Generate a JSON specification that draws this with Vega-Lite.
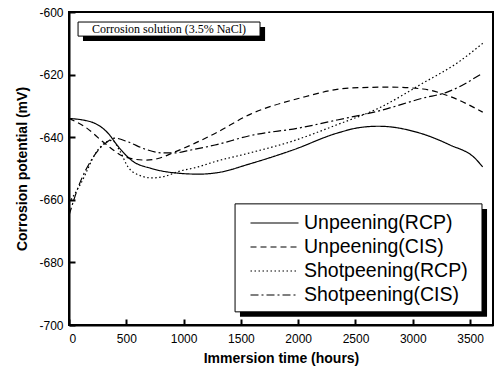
{
  "$schema": "https://vega.github.io/schema/vega-lite/v6.json",
  "width": 424,
  "height": 313,
  "autosize": {"type": "none"},
  "padding": {"left": 69, "top": 12, "right": 2, "bottom": 51},
  "background": "white",
  "config": {
    "view": {"stroke": "black", "strokeWidth": 2},
    "axis": {"grid": false, "domain": true, "domainColor": "black", "domainWidth": 2, "ticks": true, "labelOverlap": false, "labelFont": "Liberation Sans", "labelFontSize": 12, "labelColor": "black", "titleFont": "Liberation Sans", "titleFontSize": 14, "titleFontWeight": "bold", "titleColor": "black", "tickColor": "black", "tickWidth": 2}
  },
  "datasets": {
    "curves": [
      {"series": "Unpeening(RCP)", "hours": 0, "mV": -634},
      {"series": "Unpeening(RCP)", "hours": 200, "mV": -635.2},
      {"series": "Unpeening(RCP)", "hours": 340, "mV": -638.7},
      {"series": "Unpeening(RCP)", "hours": 430, "mV": -643},
      {"series": "Unpeening(RCP)", "hours": 550, "mV": -647.5},
      {"series": "Unpeening(RCP)", "hours": 720, "mV": -650},
      {"series": "Unpeening(RCP)", "hours": 925, "mV": -651.4},
      {"series": "Unpeening(RCP)", "hours": 1130, "mV": -651.8},
      {"series": "Unpeening(RCP)", "hours": 1300, "mV": -651.3},
      {"series": "Unpeening(RCP)", "hours": 1580, "mV": -648.5},
      {"series": "Unpeening(RCP)", "hours": 1960, "mV": -644},
      {"series": "Unpeening(RCP)", "hours": 2340, "mV": -638.7},
      {"series": "Unpeening(RCP)", "hours": 2540, "mV": -636.9},
      {"series": "Unpeening(RCP)", "hours": 2700, "mV": -636.5},
      {"series": "Unpeening(RCP)", "hours": 3063, "mV": -638.7},
      {"series": "Unpeening(RCP)", "hours": 3325, "mV": -642.5},
      {"series": "Unpeening(RCP)", "hours": 3545, "mV": -646.8},
      {"series": "Unpeening(RCP)", "hours": 3610, "mV": -649.5},
      {"series": "Unpeening(CIS)", "hours": 0, "mV": -634},
      {"series": "Unpeening(CIS)", "hours": 140, "mV": -636.7},
      {"series": "Unpeening(CIS)", "hours": 314, "mV": -642},
      {"series": "Unpeening(CIS)", "hours": 489, "mV": -646.3},
      {"series": "Unpeening(CIS)", "hours": 663, "mV": -647.3},
      {"series": "Unpeening(CIS)", "hours": 777, "mV": -646.8},
      {"series": "Unpeening(CIS)", "hours": 925, "mV": -644.7},
      {"series": "Unpeening(CIS)", "hours": 1100, "mV": -641.9},
      {"series": "Unpeening(CIS)", "hours": 1274, "mV": -638.8},
      {"series": "Unpeening(CIS)", "hours": 1580, "mV": -632.7},
      {"series": "Unpeening(CIS)", "hours": 2016, "mV": -627.5},
      {"series": "Unpeening(CIS)", "hours": 2453, "mV": -624.3},
      {"series": "Unpeening(CIS)", "hours": 2800, "mV": -624},
      {"series": "Unpeening(CIS)", "hours": 3090, "mV": -624.6},
      {"series": "Unpeening(CIS)", "hours": 3325, "mV": -627},
      {"series": "Unpeening(CIS)", "hours": 3610, "mV": -632},
      {"series": "Shotpeening(RCP)", "hours": 0, "mV": -661},
      {"series": "Shotpeening(RCP)", "hours": 100, "mV": -655},
      {"series": "Shotpeening(RCP)", "hours": 253, "mV": -644},
      {"series": "Shotpeening(RCP)", "hours": 375, "mV": -641},
      {"series": "Shotpeening(RCP)", "hours": 445, "mV": -644.5},
      {"series": "Shotpeening(RCP)", "hours": 515, "mV": -649.5},
      {"series": "Shotpeening(RCP)", "hours": 602, "mV": -652},
      {"series": "Shotpeening(RCP)", "hours": 724, "mV": -653},
      {"series": "Shotpeening(RCP)", "hours": 838, "mV": -652.5},
      {"series": "Shotpeening(RCP)", "hours": 951, "mV": -651},
      {"series": "Shotpeening(RCP)", "hours": 1126, "mV": -649.5},
      {"series": "Shotpeening(RCP)", "hours": 1274, "mV": -647.8},
      {"series": "Shotpeening(RCP)", "hours": 1580, "mV": -645},
      {"series": "Shotpeening(RCP)", "hours": 1955, "mV": -641.2},
      {"series": "Shotpeening(RCP)", "hours": 2340, "mV": -636},
      {"series": "Shotpeening(RCP)", "hours": 2715, "mV": -630.5},
      {"series": "Shotpeening(RCP)", "hours": 3090, "mV": -622.7},
      {"series": "Shotpeening(RCP)", "hours": 3387, "mV": -616.3},
      {"series": "Shotpeening(RCP)", "hours": 3610, "mV": -610},
      {"series": "Shotpeening(CIS)", "hours": 0, "mV": -665},
      {"series": "Shotpeening(CIS)", "hours": 80, "mV": -656},
      {"series": "Shotpeening(CIS)", "hours": 200, "mV": -647},
      {"series": "Shotpeening(CIS)", "hours": 332, "mV": -641.5},
      {"series": "Shotpeening(CIS)", "hours": 400, "mV": -640.3},
      {"series": "Shotpeening(CIS)", "hours": 515, "mV": -641.5},
      {"series": "Shotpeening(CIS)", "hours": 663, "mV": -643.8},
      {"series": "Shotpeening(CIS)", "hours": 811, "mV": -645},
      {"series": "Shotpeening(CIS)", "hours": 925, "mV": -645},
      {"series": "Shotpeening(CIS)", "hours": 1074, "mV": -644},
      {"series": "Shotpeening(CIS)", "hours": 1274, "mV": -642.5},
      {"series": "Shotpeening(CIS)", "hours": 1580, "mV": -639.5},
      {"series": "Shotpeening(CIS)", "hours": 2016, "mV": -637},
      {"series": "Shotpeening(CIS)", "hours": 2340, "mV": -634.5},
      {"series": "Shotpeening(CIS)", "hours": 2715, "mV": -631.5},
      {"series": "Shotpeening(CIS)", "hours": 3090, "mV": -627.5},
      {"series": "Shotpeening(CIS)", "hours": 3300, "mV": -625.6},
      {"series": "Shotpeening(CIS)", "hours": 3610, "mV": -619.5}
    ],
    "one": [{}]
  },
  "layer": [
    {
      "data": {"name": "curves"},
      "mark": {"type": "line", "interpolate": "monotone", "color": "black", "strokeWidth": 1.2},
      "encoding": {
        "x": {"field": "hours", "type": "quantitative", "scale": {"domain": [0, 3700], "nice": false},
          "axis": {"orient": "bottom", "values": [0, 250, 500, 750, 1000, 1250, 1500, 1750, 2000, 2250, 2500, 2750, 3000, 3250, 3500], "format": "d", "labelExpr": "datum.value % 500 === 0 ? datum.label : ''", "tickSize": {"condition": {"test": "datum.value % 500 === 0", "value": -6}, "value": -3}, "labelPadding": 14, "title": "Immersion time (hours)", "titlePadding": 7}},
        "y": {"field": "mV", "type": "quantitative", "scale": {"domain": [-700, -600], "nice": false, "zero": false},
          "axis": {"orient": "left", "values": [-700, -690, -680, -670, -660, -650, -640, -630, -620, -610, -600], "labelExpr": "datum.value % 20 === 0 ? toString(datum.value) : ''", "tickSize": {"condition": {"test": "datum.value % 20 === 0", "value": -6}, "value": -3}, "labelPadding": 12, "title": "Corrosion potential (mV)", "titlePadding": 9}},
        "strokeDash": {"field": "series", "type": "nominal",
          "scale": {"domain": ["Unpeening(RCP)", "Unpeening(CIS)", "Shotpeening(RCP)", "Shotpeening(CIS)"], "range": [[1, 0], [6, 4], [1.5, 2.5], [8, 3, 2, 3]]},
          "legend": {"title": null, "orient": "none", "legendX": 192.5, "legendY": 198, "padding": 0, "labelFont": "Liberation Sans", "labelFontSize": 19.5, "labelColor": "black", "symbolType": "M-2,0H2", "symbolSize": 576, "symbolFillColor": "transparent", "symbolStrokeColor": "black", "symbolStrokeWidth": 1.2, "labelOffset": 16.5, "rowPadding": 1, "labelLimit": 300}}
      }
    },
    {
      "data": {"name": "one"},
      "mark": {"type": "rect", "fill": "black"},
      "encoding": {
        "x": {"datum": 1492, "type": "quantitative"},
        "x2": {"datum": 3648},
        "y": {"datum": -662.9, "type": "quantitative"},
        "y2": {"datum": -697.4}
      }
    },
    {
      "data": {"name": "one"},
      "mark": {"type": "rect", "fill": "white", "stroke": "black", "strokeWidth": 1},
      "encoding": {
        "x": {"datum": 1449, "type": "quantitative"},
        "x2": {"datum": 3604},
        "y": {"datum": -661.3, "type": "quantitative"},
        "y2": {"datum": -695.8}
      }
    },
    {
      "data": {"name": "one"},
      "mark": {"type": "rect", "fill": "black"},
      "encoding": {
        "x": {"datum": 122, "type": "quantitative"},
        "x2": {"datum": 1711},
        "y": {"datum": -604.8, "type": "quantitative"},
        "y2": {"datum": -609.3}
      }
    },
    {
      "data": {"name": "one"},
      "mark": {"type": "rect", "fill": "white", "stroke": "black", "strokeWidth": 1},
      "encoding": {
        "x": {"datum": 79, "type": "quantitative"},
        "x2": {"datum": 1667},
        "y": {"datum": -603.2, "type": "quantitative"},
        "y2": {"datum": -607.7}
      }
    },
    {
      "data": {"name": "one"},
      "mark": {"type": "text", "font": "Liberation Serif", "fontSize": 12, "color": "black", "align": "center", "baseline": "middle"},
      "encoding": {
        "x": {"datum": 873, "type": "quantitative"},
        "y": {"datum": -605.5, "type": "quantitative"},
        "text": {"value": "Corrosion solution (3.5% NaCl)"}
      }
    }
  ]
}
